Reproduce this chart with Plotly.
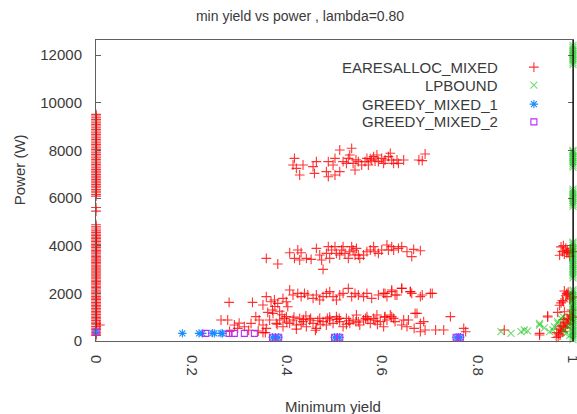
import plotly.graph_objects as go

# ---------------- data ----------------
ear_zero_power = [230, 290, 350, 420, 480, 540, 610, 680, 740, 800, 860, 930, 990, 1050, 1110,
                  1180, 1240, 1300, 1360, 1430, 1490, 1550, 1610, 1680, 1740, 1800, 1860, 1930,
                  1990, 2050, 2110, 2180, 2240, 2300, 2360, 2430, 2490, 2550, 2610, 2680, 2740,
                  2800, 2860, 2930, 2990, 3050, 3110, 3180, 3240, 3300, 3360, 3430, 3490, 3550,
                  3610, 3680, 3740, 3800, 3860, 3930, 3990, 4050, 4110, 4180, 4240, 4300, 4360,
                  4430, 4490, 4550, 4620, 4700, 4790, 4880, 5450, 5600, 6080, 6150, 6220, 6290,
                  6360, 6430, 6500, 6570, 6640, 6710, 6780, 6850, 6920, 6990, 7060, 7130, 7200,
                  7270, 7340, 7410, 7480, 7550, 7620, 7690, 7760, 7830, 7900, 7970, 8040, 8110,
                  8180, 8250, 8320, 8390, 8460, 8530, 8600, 8670, 8740, 8810, 8880, 8950, 9020,
                  9090, 9160, 9230, 9300, 9370, 9440, 9510]

ear_x = [0.008,
         # ~7500 W band
         0.416, 0.413, 0.420, 0.434, 0.427, 0.455, 0.462, 0.458, 0.487, 0.483, 0.487, 0.501, 0.497,
         0.501, 0.511, 0.511, 0.518, 0.529, 0.532, 0.536, 0.525, 0.539, 0.543, 0.550, 0.557, 0.564,
         0.568, 0.571, 0.578, 0.582, 0.589, 0.592, 0.599, 0.603, 0.606, 0.613, 0.617, 0.620, 0.624,
         0.631, 0.634, 0.645, 0.677, 0.684, 0.690, 0.545, 0.575, 0.585,
         # ~3800 W band
         0.357, 0.381, 0.406, 0.423, 0.430, 0.416, 0.427, 0.441, 0.451, 0.462, 0.469, 0.473, 0.476,
         0.483, 0.487, 0.490, 0.494, 0.501, 0.504, 0.511, 0.515, 0.518, 0.522, 0.529, 0.532, 0.536,
         0.539, 0.543, 0.546, 0.550, 0.553, 0.561, 0.568, 0.575, 0.582, 0.585, 0.592, 0.599, 0.610,
         0.613, 0.620, 0.624, 0.634, 0.641, 0.652, 0.662, 0.666, 0.680,
         # ~1900 W band
         0.279, 0.328, 0.350, 0.357, 0.367, 0.374, 0.381, 0.392, 0.399, 0.402, 0.406, 0.413, 0.423,
         0.430, 0.437, 0.444, 0.455, 0.462, 0.469, 0.476, 0.483, 0.490, 0.497, 0.504, 0.511, 0.518,
         0.529, 0.536, 0.543, 0.550, 0.561, 0.568, 0.578, 0.592, 0.603, 0.610, 0.620, 0.627, 0.641,
         0.659, 0.673, 0.680, 0.606, 0.620, 0.631, 0.641, 0.659, 0.662, 0.684, 0.701, 0.705,
         # ~900 W band
         0.262, 0.276, 0.290, 0.297, 0.311, 0.325, 0.335, 0.342, 0.350, 0.357, 0.364, 0.371, 0.378,
         0.385, 0.392, 0.399, 0.406, 0.413, 0.420, 0.427, 0.434, 0.441, 0.448, 0.455, 0.462, 0.469,
         0.476, 0.483, 0.490, 0.497, 0.504, 0.511, 0.518, 0.525, 0.532, 0.539, 0.546, 0.553, 0.561,
         0.568, 0.575, 0.582, 0.589, 0.596, 0.603, 0.610, 0.620, 0.627, 0.641, 0.655, 0.667, 0.680,
         0.370, 0.375, 0.385, 0.390, 0.360, 0.380, 0.400, 0.430, 0.450, 0.470, 0.490, 0.510, 0.530,
         0.550, 0.570, 0.590, 0.440, 0.420, 0.460, 0.350, 0.320, 0.300, 0.280, 0.340, 0.355, 0.395,
         0.415, 0.435, 0.465, 0.485, 0.505, 0.525, 0.545, 0.565, 0.585, 0.605,
         0.606, 0.617, 0.624, 0.645, 0.652, 0.669, 0.680, 0.687, 0.690, 0.712, 0.729, 0.743, 0.771,
         0.775, 0.856, 0.930, 0.947, 0.947, 0.930, 0.982,
         # clusters at yield ~1
         0.972, 0.978, 0.985, 0.990, 0.995, 0.975, 0.982, 0.988, 0.993, 0.998, 0.980, 0.987,
         0.972, 0.978, 0.985, 0.990, 0.995, 0.975, 0.982, 0.988, 0.993, 0.998, 0.980, 0.987,
         0.965, 0.970, 0.976, 0.981, 0.986, 0.991, 0.996, 0.968, 0.973, 0.979, 0.984, 0.989,
         0.994, 0.999, 0.966, 0.971, 0.977, 0.983, 0.988, 0.993, 0.997, 0.969, 0.974, 0.980]
ear_y = [670,
         7665, 7385, 7245, 7385, 6965, 7315, 7525, 7035, 7525, 7105, 6895, 7665, 7385,
         6965, 8014, 7105, 7525, 7665, 7805, 8085, 7455, 7455, 7175, 7525, 7385, 7525,
         7665, 7385, 7595, 7735, 7805, 7525, 7665, 7455, 7595, 7735, 7875, 7595, 7455,
         7595, 7455, 7595, 7595, 7570, 7846, 7600, 7650, 7550,
         3469, 3231, 3706, 3818, 3706, 3469, 3399, 3469, 3427, 3888, 3609, 3399, 3007,
         3678, 3958, 3469, 3818, 3958, 3678, 3609, 3818, 3958, 3678, 3469, 3748, 3958,
         3818, 3609, 3888, 3609, 3469, 3609, 3748, 3818, 3958, 3748, 3678, 3818, 4028,
         3818, 3958, 3818, 3888, 3958, 3748, 3539, 3846, 3790,
         1622, 1622, 1511, 1860, 1650, 1720, 1580, 1790, 1650, 1440, 2140, 1930, 2000,
         1860, 2000, 1930, 1790, 1930, 1720, 1860, 2000, 2070, 1860, 1720, 1930, 2000,
         2210, 1860, 2000, 1930, 1860, 2000, 1790, 1930, 2000, 1860, 2070, 1930, 2210,
         2070, 1160, 1860, 2000, 2140, 1930, 2210, 2070, 2000, 1930, 2000, 2000,
         881, 881, 671, 531, 601, 741, 1021, 881, 671, 531, 881, 1161, 741,
         881, 601, 1021, 741, 881, 671, 951, 811, 601, 881, 741, 531, 951,
         811, 671, 881, 741, 1021, 811, 601, 951, 741, 881, 1091, 671, 881,
         1021, 741, 951, 1091, 811, 601, 881, 1021, 811, 671, 881, 531, 391,
         1300, 1450, 1250, 1100, 1200, 700, 800, 700, 950, 700, 1000, 950, 850,
         800, 900, 700, 1050, 500, 450, 350, 450, 750, 400, 420, 350, 950,
         1000, 900, 850, 950, 900, 700, 800, 950, 850, 1000,
         1021, 1091, 951, 881, 601, 1161, 741, 811, 461, 461, 461, 1021, 531,
         391, 461, 322, 1049, 1007, 250, 1230,
         3600, 3750, 3900, 3700, 3850, 3950, 3650, 3800, 3550, 3750, 4000, 3700,
         1500, 1700, 1900, 2050, 1800, 1600, 2100, 1950, 1750, 1850, 1650, 2000,
         150, 300, 450, 600, 750, 900, 1050, 1200, 250, 400, 550, 700,
         850, 1000, 350, 500, 650, 800, 950, 1100, 1300, 200, 600, 900]

lp_one_power = [11600, 11680, 11760, 11840, 11920, 12000, 12080, 12160, 12240, 12320, 12400,
                7300, 7380, 7460, 7540, 7620, 7700, 7780, 7860, 7940, 8000,
                5650, 5730, 5810, 5890, 5970, 6050, 6130, 6210, 6290, 6370,
                2650, 2730, 2810, 2890, 2970, 3050, 3130, 3210, 3290, 3370, 3450, 3530, 3610,
                3690, 3770, 3850, 3930, 4010, 4090, 4150,
                60, 140, 220, 300, 380, 460, 540, 620, 700, 780, 860, 940, 1020, 1100, 1180,
                1260, 1340, 1420, 1500, 1580, 1660, 1740, 1820, 1900, 1980, 2060, 2140]
lp_x = [0.849, 0.870, 0.891, 0.898, 0.905, 0.930, 0.930, 0.951, 0.958, 0.961, 0.968, 0.968,
        0.975, 0.979, 0.982, 0.993, 0.990, 0.985, 0.940]
lp_y = [391, 322, 391, 461, 426, 741, 671, 391, 461, 601, 811, 742, 952, 1021, 461, 224, 600,
        300, 550]

g1_x = [0.0, 0.181, 0.216, 0.223, 0.248, 0.265, 0.244, 0.262, 0.370, 0.376, 0.383, 0.500,
        0.506, 0.511, 0.755, 0.760, 0.764]
g1_y = [380, 322, 322, 322, 322, 322, 330, 318, 155, 155, 155, 155, 155, 155, 155, 155, 155]

g2_x = [0.0, 0.230, 0.279, 0.290, 0.311, 0.332, 0.370, 0.383, 0.500, 0.511, 0.755, 0.764]
g2_y = [380, 322, 322, 322, 322, 322, 155, 155, 155, 155, 155, 155]

x_ticks = [0, 0.2, 0.4, 0.6, 0.8, 1]
x_tick_labels = ["0", "0.2", "0.4", "0.6", "0.8", "1"]
y_ticks = [0, 2000, 4000, 6000, 8000, 10000, 12000]
y_tick_labels = ["0", "2000", "4000", "6000", "8000", "10000", "12000"]
series_names = ["EARESALLOC_MIXED", "LPBOUND", "GREEDY_MIXED_1", "GREEDY_MIXED_2"]

# ---------------- styles ----------------
RED = "rgba(255,0,0,0.8)"
GREEN = "rgba(0,190,0,0.55)"
BLUE = "#1a8cff"
PURPLE = "#b82cff"
FONT = "Liberation Sans, Arial, sans-serif"
TXT = "#3a3a3a"

styles = [
    dict(symbol="cross-thin-open", size=7, color=RED, line=dict(width=1.1, color=RED)),
    dict(symbol="x-thin-open", size=7, color=GREEN, line=dict(width=1.1, color=GREEN)),
    dict(symbol="asterisk-open", size=7, color=BLUE, line=dict(width=1.1, color=BLUE)),
    dict(symbol="square-open", size=6, color=PURPLE, line=dict(width=1.1, color=PURPLE)),
]

fig = go.Figure()
fig.add_trace(go.Scatter(x=[0.0] * len(ear_zero_power) + ear_x, y=ear_zero_power + ear_y,
                         mode="markers", marker=styles[0], cliponaxis=False, showlegend=False))
fig.add_trace(go.Scatter(x=[1.0] * len(lp_one_power) + lp_x, y=lp_one_power + lp_y,
                         mode="markers", marker=styles[1], cliponaxis=False, showlegend=False))
fig.add_trace(go.Scatter(x=g1_x, y=g1_y, mode="markers", marker=styles[2],
                         cliponaxis=False, showlegend=False))
fig.add_trace(go.Scatter(x=g2_x, y=g2_y, mode="markers", marker=styles[3],
                         cliponaxis=False, showlegend=False))

# gnuplot-style key: right-aligned text, sample to the right
key_rows = [0.910, 0.850, 0.787, 0.728]
for name, st, ry in zip(series_names, styles, key_rows):
    fig.add_trace(go.Scatter(x=[0.918], y=[ry], xaxis="x2", yaxis="y2", mode="markers",
                             marker=st, cliponaxis=False, showlegend=False, hoverinfo="skip"))
    fig.add_annotation(xref="paper", yref="paper", x=0.847, y=ry, text=name, showarrow=False,
                       xanchor="right", yanchor="middle", font=dict(family=FONT, size=15, color=TXT))

fig.add_annotation(xref="paper", yref="paper", x=-0.161, y=0.568, text="Power (W)", textangle=-90,
                   showarrow=False, xanchor="center", yanchor="middle",
                   font=dict(family=FONT, size=15, color=TXT))
fig.add_annotation(xref="paper", yref="paper", x=0.497, y=-0.219, text="Minimum yield",
                   showarrow=False, xanchor="center", yanchor="middle",
                   font=dict(family=FONT, size=15, color=TXT))
fig.add_shape(type="line", xref="paper", yref="paper", x0=1, x1=1, y0=0, y1=1,
              line=dict(color="black", width=1.2), layer="above")

fig.update_layout(
    width=577, height=414,
    margin=dict(l=96, r=4, t=40, b=73, autoexpand=False),
    paper_bgcolor="white", plot_bgcolor="white",
    font=dict(family=FONT, size=15, color=TXT),
    title=dict(text="min yield vs power , lambda=0.80", x=0.52, xanchor="center",
               y=1 - 16 / 414, yanchor="middle", yref="container",
               font=dict(family=FONT, size=14, color=TXT)),
    xaxis=dict(range=[-0.0001, 1.0001], tickvals=x_ticks, ticktext=x_tick_labels, tickangle=90,
               showgrid=False, zeroline=False, showline=True, mirror=True,
               linecolor="#606060", linewidth=1, ticks="", ticklabelstandoff=10,
               ticklabeloverflow="allow", automargin=False,
               tickfont=dict(family=FONT, size=15, color=TXT)),
    yaxis=dict(range=[0, 12630], tickvals=y_ticks, ticktext=y_tick_labels, showgrid=False,
               zeroline=False, showline=True, mirror="ticks", linecolor="#606060", linewidth=1,
               ticks="inside", ticklen=5, tickcolor="#606060", ticklabelstandoff=10,
               automargin=False, tickfont=dict(family=FONT, size=15, color=TXT)),
    xaxis2=dict(overlaying="x", range=[0, 1], visible=False, fixedrange=True),
    yaxis2=dict(overlaying="y", range=[0, 1], visible=False, fixedrange=True),
)

fig.write_html("out.html")
